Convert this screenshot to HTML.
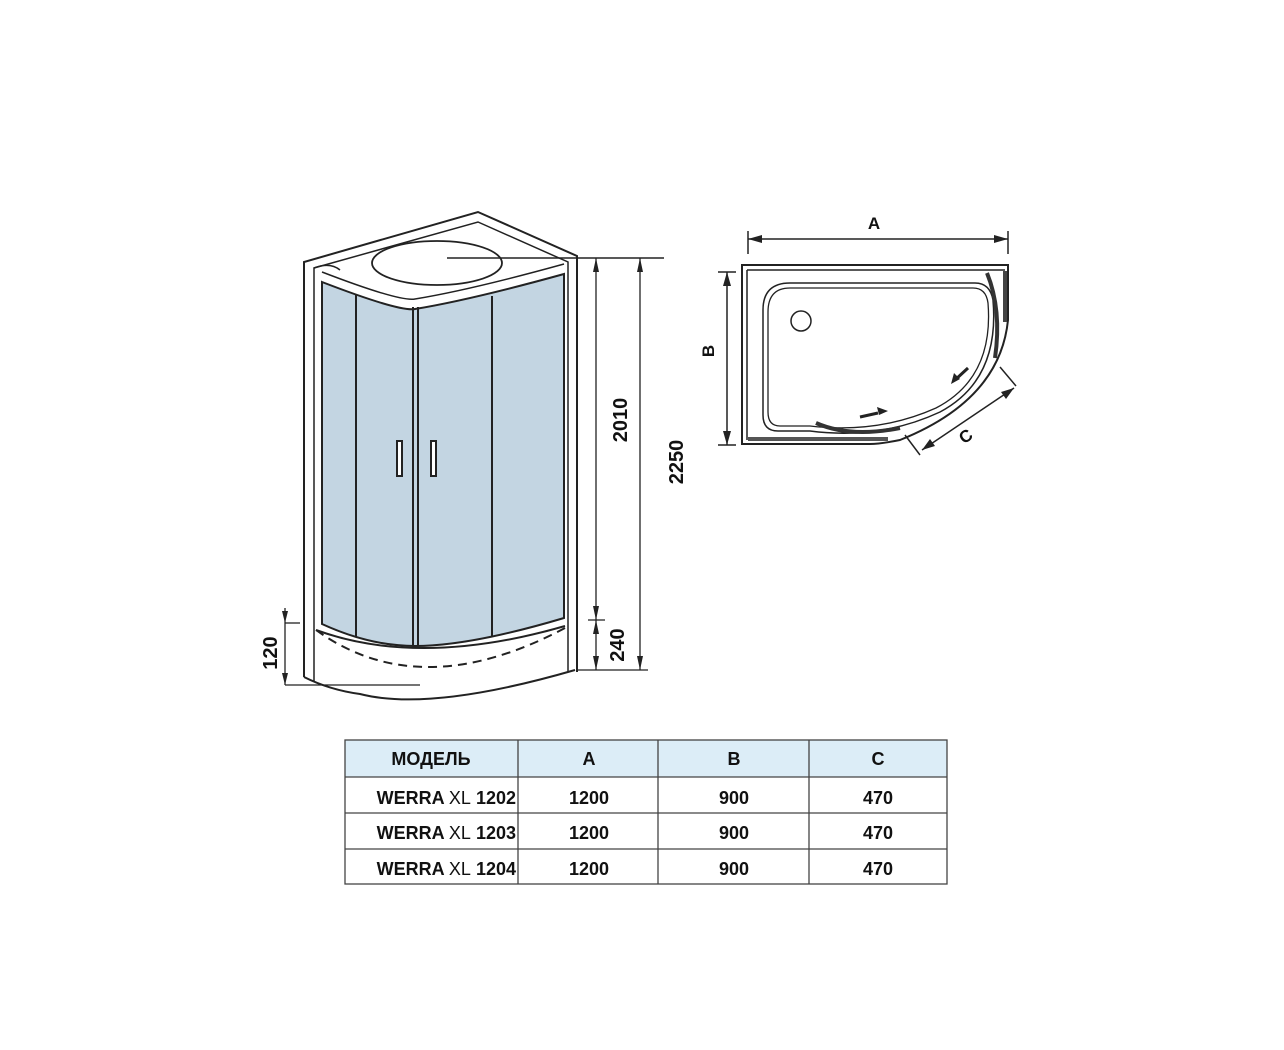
<!DOCTYPE html>
<html><head><meta charset="utf-8"><style>
body{margin:0;background:#fff;}
svg{display:block}
text{font-family:"Liberation Sans",sans-serif;font-weight:bold;fill:#111}
</style></head><body>
<svg width="1284" height="1050" viewBox="0 0 1284 1050" xmlns="http://www.w3.org/2000/svg">
<g fill="none" stroke="#222" stroke-width="2">
<!-- outer frame -->
<path d="M304,677 L304,262 L478,212 L577,256 L577,672" />
<path d="M314,681 L314,268 L478,222 L568,262 L568,672" stroke-width="1.5"/>
<path d="M314,268 Q330,262 340,270" stroke-width="1.5"/>
<!-- glass -->
<path d="M322,282 Q400,312 415,309 Q470,300 564,274 L564,618 Q470,646 415,646 Q370,646 322,624 Z" fill="#c3d5e2" stroke="#222"/>
<path d="M322,272 Q400,302 415,299 Q470,290 564,264" stroke-width="1.5"/>
<line x1="356" y1="295" x2="356" y2="637"/>
<line x1="413" y1="307" x2="413" y2="646"/>
<line x1="418" y1="307" x2="418" y2="646"/>
<line x1="492" y1="296" x2="492" y2="637"/>
<rect x="397" y="441" width="5" height="35" fill="#fff"/>
<rect x="431" y="441" width="5" height="35" fill="#fff"/>
<!-- basin -->
<ellipse cx="437" cy="263" rx="65" ry="22" stroke-width="1.8"/>
<!-- tray -->
<path d="M316,630 Q420,668 565,626" />
<path d="M316,630 Q420,705 565,628" stroke-dasharray="9,6"/>
<path d="M304,677 Q330,690 360,694 Q430,712 575,670" />
<!-- dims left view -->
<line x1="447" y1="258" x2="664" y2="258" stroke-width="1.5"/>
<line x1="596" y1="258" x2="596" y2="620" stroke-width="1.3"/>
<line x1="596" y1="620" x2="596" y2="670" stroke-width="1.3"/>
<line x1="588" y1="620" x2="605" y2="620" stroke-width="1.3"/>
<line x1="640" y1="258" x2="640" y2="670" stroke-width="1.3"/>
<line x1="577" y1="670" x2="648" y2="670" stroke-width="1.3"/>
<line x1="285" y1="608" x2="285" y2="685" stroke-width="1.3"/>
<line x1="285" y1="623" x2="300" y2="623" stroke-width="1.3"/>
<line x1="285" y1="685" x2="420" y2="685" stroke-width="1.3"/>
</g>
<g fill="#222">
<path d="M596,258 l-3,14 h6z M596,620 l-3,-14 h6z M596,620 l-3,14 h6z M596,670 l-3,-14 h6z"/>
<path d="M640,258 l-3,14 h6z M640,670 l-3,-14 h6z"/>
<path d="M285,623 l-3,-12 h6z M285,685 l-3,-12 h6z"/>
</g>
<text transform="translate(627,420) rotate(-90)" font-size="20" text-anchor="middle">2010</text>
<text transform="translate(683,462) rotate(-90)" font-size="20" text-anchor="middle">2250</text>
<text transform="translate(624,645) rotate(-90)" font-size="20" text-anchor="middle">240</text>
<text transform="translate(277,653) rotate(-90)" font-size="20" text-anchor="middle">120</text>
<!-- plan view -->
<g fill="none" stroke="#222" stroke-width="2">
<path d="M742,265 L1008,265 L1008,320 Q1000,400 900,440 Q880,444 870,444 L742,444 Z"/>
<path d="M747,270 L1005,270" stroke-width="1.5"/>
<path d="M747,270 L747,440" stroke-width="1.5"/>
<path d="M790,283 L975,283 Q990,283 993,300 Q1000,380 940,412 Q880,440 810,431 L778,431 Q763,431 763,415 L763,310 Q763,283 790,283 Z" stroke-width="1.5"/>
<path d="M790,288 L973,288 Q986,288 988,303 Q994,378 936,408 Q878,434 810,426 L780,426 Q768,426 768,412 L768,312 Q768,288 790,288 Z" stroke-width="1.3"/>
<circle cx="801" cy="321" r="10" stroke-width="1.5"/>
<path d="M987,273 Q1002,310 995,358" stroke-width="4" stroke="#333"/>
<line x1="1005" y1="271" x2="1005" y2="322" stroke-width="4" stroke="#444"/>
<path d="M816,423 Q850,438 900,428" stroke-width="4" stroke="#333"/>
<line x1="748" y1="439" x2="888" y2="439" stroke-width="4" stroke="#555"/>
<line x1="748" y1="239" x2="1008" y2="239" stroke-width="1.5"/>
<line x1="748" y1="231" x2="748" y2="254" stroke-width="1.5"/>
<line x1="1008" y1="231" x2="1008" y2="254" stroke-width="1.5"/>
<line x1="727" y1="272" x2="727" y2="445" stroke-width="1.5"/>
<line x1="718" y1="272" x2="736" y2="272" stroke-width="1.5"/>
<line x1="718" y1="445" x2="736" y2="445" stroke-width="1.5"/>
<line x1="922" y1="450" x2="1014" y2="388" stroke-width="1.5"/>
<line x1="905" y1="435" x2="920" y2="455" stroke-width="1.5"/>
<line x1="1000" y1="367" x2="1016" y2="386" stroke-width="1.5"/>
<line x1="968" y1="368" x2="955" y2="380" stroke-width="3"/>
<line x1="860" y1="417" x2="878" y2="413" stroke-width="3"/>
</g>
<g fill="#222">
<path d="M748,239 l14,-4 v8z M1008,239 l-14,-4 v8z"/>
<path d="M727,272 l-4,14 h8z M727,445 l-4,-14 h8z"/>
<path d="M922,450 l8,-11 l5,7z M1014,388 l-8,11 l-5,-7z"/>
<path d="M951,384 l3,-11 l6,6z M888,411 l-11,-4 l2,8z"/>
</g>
<text x="874" y="229" font-size="17" text-anchor="middle">A</text>
<text transform="translate(714,351) rotate(-90)" font-size="17" text-anchor="middle">B</text>
<text transform="translate(969,441) rotate(-35)" font-size="17" text-anchor="middle">C</text>
<!-- table -->
<rect x="345" y="740" width="602" height="37" fill="#dcedf7"/>
<g stroke="#444" stroke-width="1.3" fill="none">
<rect x="345" y="740" width="602" height="144"/>
<line x1="345" y1="777" x2="947" y2="777"/>
<line x1="345" y1="813" x2="947" y2="813"/>
<line x1="345" y1="849" x2="947" y2="849"/>
<line x1="518" y1="740" x2="518" y2="884"/>
<line x1="658" y1="740" x2="658" y2="884"/>
<line x1="809" y1="740" x2="809" y2="884"/>
</g>
<g font-size="18" text-anchor="middle">
<text x="431" y="765">МОДЕЛЬ</text><text x="589" y="765">A</text><text x="734" y="765">B</text><text x="878" y="765">C</text>
<text x="589" y="804">1200</text><text x="734" y="804">900</text><text x="878" y="804">470</text>
<text x="589" y="839">1200</text><text x="734" y="839">900</text><text x="878" y="839">470</text>
<text x="589" y="875">1200</text><text x="734" y="875">900</text><text x="878" y="875">470</text>
</g>
<g font-size="18" text-anchor="end">
<text x="516" y="804">WERRA <tspan font-weight="normal">XL</tspan> 1202</text>
<text x="516" y="839">WERRA <tspan font-weight="normal">XL</tspan> 1203</text>
<text x="516" y="875">WERRA <tspan font-weight="normal">XL</tspan> 1204</text>
</g>
</svg>
</body></html>
